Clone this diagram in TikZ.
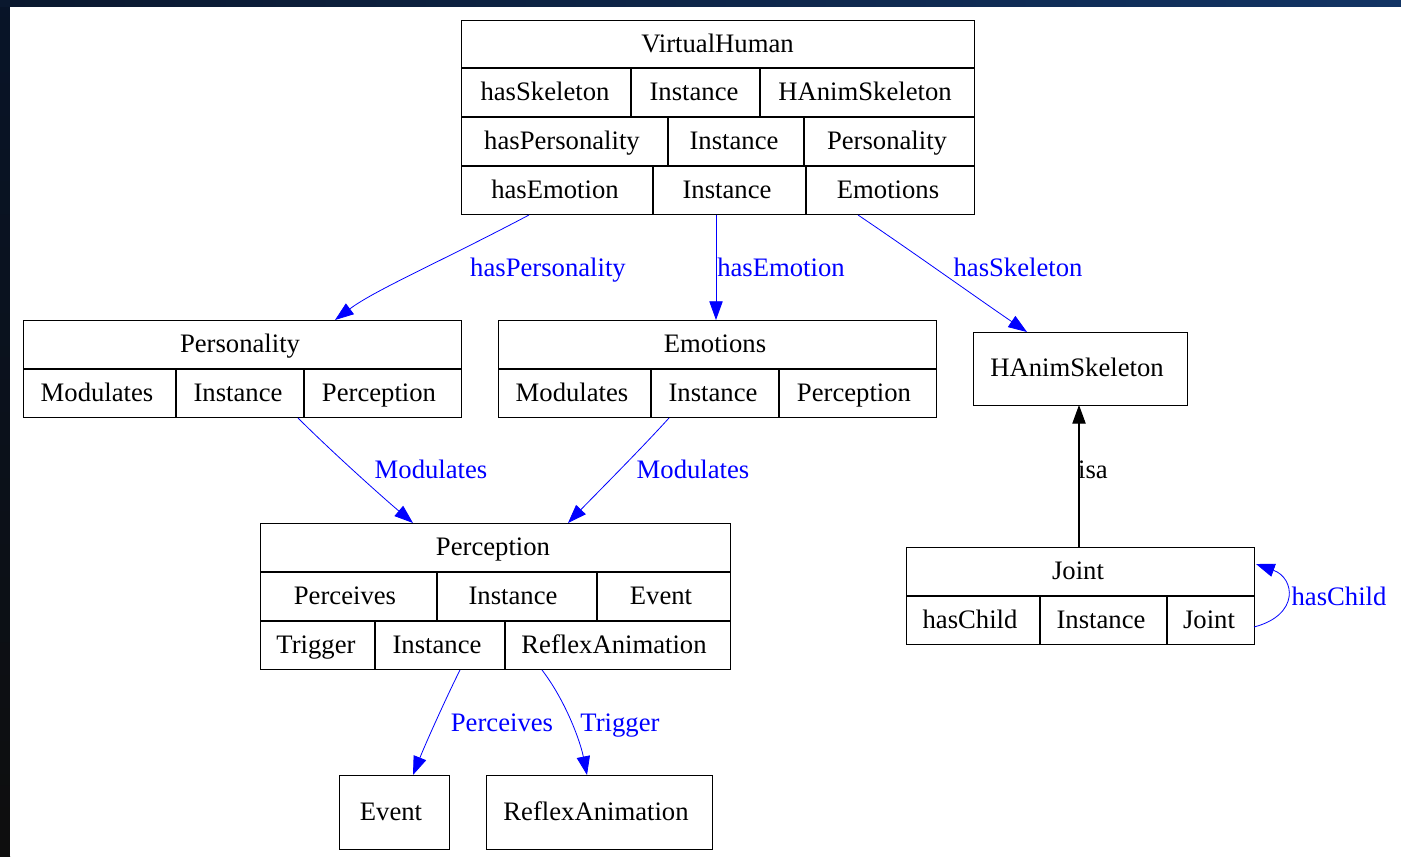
\documentclass[tikz,border=0pt]{standalone}
\usepackage{fontspec}
\setmainfont{Liberation Serif}
\usetikzlibrary{arrows.meta}
\definecolor{edgeblue}{RGB}{0,0,255}
\definecolor{bandA}{RGB}{10,24,46}
\definecolor{bandB}{RGB}{18,52,100}
\definecolor{bandC}{RGB}{8,20,40}
\definecolor{bandD}{RGB}{14,14,14}
\begin{document}
\begin{tikzpicture}[x=0.75pt,y=-0.75pt,
  rec/.style={draw=black, line width=0.9pt, inner sep=0pt, anchor=north west},
  cell/.style={inner sep=0pt, font=\fontsize{20}{24}\selectfont, text height=1.45ex, text depth=0.3ex, yshift=-3.5pt},
  elbl/.style={cell, text=edgeblue},
  klbl/.style={cell, text=black},
  sep/.style={draw=black, line width=0.9pt},
  bedge/.style={draw=edgeblue, line width=0.6pt, -{Triangle[length=14pt,width=10pt]}},
  kedge/.style={draw=black, line width=0.8pt, -{Triangle[length=14pt,width=10pt]}}]
\useasboundingbox (0,0) rectangle (1401,856);
% background frame
\shade[top color=bandC, bottom color=bandD] (0,0) rectangle (10,856);
\shade[left color=bandA, right color=bandB] (0,0) rectangle (1401,7);
\fill[white] (10,7) rectangle (1401,856);

% ---------- VirtualHuman ----------
\node[rec, minimum width=384.75pt, minimum height=145.5pt] (vh) at (461,20) {};
\draw[sep] (461,68) -- (974,68) (461,117) -- (974,117) (461,166) -- (974,166);
\draw[sep] (631,68) -- (631,117) (760,68) -- (760,117);
\draw[sep] (668,117) -- (668,166) (804,117) -- (804,166);
\draw[sep] (653,166) -- (653,214) (806,166) -- (806,214);
\node[cell] (vh-h) at (717.5,44) {VirtualHuman};
\node[cell] (vh-a1) at (545,92.5) {hasSkeleton};
\node[cell] (vh-a2) at (694,92.5) {Instance};
\node[cell] (vh-a3) at (865,92.5) {HAnimSkeleton};
\node[cell] (vh-b1) at (562,141.5) {hasPersonality};
\node[cell] (vh-b2) at (734,141.5) {Instance};
\node[cell] (vh-b3) at (887,141.5) {Personality};
\node[cell] (vh-c1) at (555,190) {hasEmotion};
\node[cell] (vh-c2) at (727,190) {Instance};
\node[cell] (vh-c3) at (888,190) {Emotions};

% ---------- Personality ----------
\node[rec, minimum width=328.5pt, minimum height=72.75pt] (pe) at (23,320) {};
\draw[sep] (23,369) -- (461,369) (176,369) -- (176,417) (304,369) -- (304,417);
\node[cell] (pe-h) at (240,344.5) {Personality};
\node[cell] (pe-1) at (97,393) {Modulates};
\node[cell] (pe-2) at (238,393) {Instance};
\node[cell] (pe-3) at (379,393) {Perception};

% ---------- Emotions ----------
\node[rec, minimum width=328.5pt, minimum height=72.75pt] (em) at (498,320) {};
\draw[sep] (498,369) -- (936,369) (651,369) -- (651,417) (779,369) -- (779,417);
\node[cell] (em-h) at (715,344.5) {Emotions};
\node[cell] (em-1) at (572,393) {Modulates};
\node[cell] (em-2) at (713,393) {Instance};
\node[cell] (em-3) at (854,393) {Perception};

% ---------- HAnimSkeleton ----------
\node[rec, minimum width=160.5pt, minimum height=54.75pt] (hs) at (973,332) {};
\node[cell] (hs-h) at (1077,368.5) {HAnimSkeleton};

% ---------- Perception ----------
\node[rec, minimum width=352.5pt, minimum height=109.5pt] (pc) at (260,523) {};
\draw[sep] (260,572) -- (730,572) (260,621) -- (730,621);
\draw[sep] (437,572) -- (437,621) (597,572) -- (597,621);
\draw[sep] (375,621) -- (375,669) (505,621) -- (505,669);
\node[cell] (pc-h) at (493,547.5) {Perception};
\node[cell] (pc-a1) at (345,596.5) {Perceives};
\node[cell] (pc-a2) at (513,596.5) {Instance};
\node[cell] (pc-a3) at (661,596.5) {Event};
\node[cell] (pc-b1) at (316,645) {Trigger};
\node[cell] (pc-b2) at (437,645) {Instance};
\node[cell] (pc-b3) at (614,645) {ReflexAnimation};

% ---------- Joint ----------
\node[rec, minimum width=261pt, minimum height=72.75pt] (jt) at (906,547) {};
\draw[sep] (906,596) -- (1254,596) (1040,596) -- (1040,644) (1167,596) -- (1167,644);
\node[cell] (jt-h) at (1078,571.5) {Joint};
\node[cell] (jt-1) at (970,620) {hasChild};
\node[cell] (jt-2) at (1101,620) {Instance};
\node[cell] (jt-3) at (1209,620) {Joint};

% ---------- Event / ReflexAnimation ----------
\node[rec, minimum width=82.5pt, minimum height=55.5pt] (ev) at (339,775) {};
\node[cell] (ev-h) at (391,812) {Event};
\node[rec, minimum width=169.5pt, minimum height=55.5pt] (ra) at (486,775) {};
\node[cell] (ra-h) at (596,812) {ReflexAnimation};

% ---------- connector end points on the boxes ----------
\coordinate (vh-o1) at (529,215);
\coordinate (vh-o2) at (716,215);
\coordinate (vh-o3) at (858,215);
\coordinate (pe-in) at (335,320);
\coordinate (em-in) at (716,320);
\coordinate (hs-in) at (1027,332);
\coordinate (hs-bot) at (1079,405);
\coordinate (jt-top) at (1079,547);
\coordinate (pe-out) at (298,418);
\coordinate (em-out) at (669,418);
\coordinate (pc-in1) at (413,523);
\coordinate (pc-in2) at (568,523);
\coordinate (pc-o1) at (460,670);
\coordinate (pc-o2) at (542,670);
\coordinate (ev-in) at (413,775);
\coordinate (ra-in) at (587,775);
\coordinate (jt-o) at (1254,627);
\coordinate (jt-i) at (1256,564);

% ---------- connectors ----------
\draw[bedge] (vh-o1) .. controls (440,262) and (375,290) .. (pe-in);
\draw[bedge] (vh-o2) -- (em-in);
\draw[bedge] (vh-o3) .. controls (910,250) and (980,300) .. (hs-in);
\draw[bedge] (pe-out) .. controls (330,450) and (380,495) .. (pc-in1);
\draw[bedge] (em-out) .. controls (640,450) and (595,495) .. (pc-in2);
\draw[bedge] (pc-o1) .. controls (445,700) and (425,745) .. (ev-in);
\draw[bedge] (pc-o2) .. controls (565,700) and (580,740) .. (ra-in);
\draw[bedge] (jt-o) .. controls (1300,615) and (1295,578) .. (jt-i);
\draw[kedge] (jt-top) -- (hs-bot);

% ---------- connector labels ----------
\node[elbl] (l-hp) at (548,268) {hasPersonality};
\node[elbl] (l-he) at (781,268) {hasEmotion};
\node[elbl] (l-hs) at (1018,268) {hasSkeleton};
\node[elbl] (l-m1) at (431,470) {Modulates};
\node[elbl] (l-m2) at (693,470) {Modulates};
\node[klbl] (l-isa) at (1093,470) {isa};
\node[elbl] (l-pv) at (502,723) {Perceives};
\node[elbl] (l-tr) at (620,723) {Trigger};
\node[elbl] (l-hc) at (1339,597) {hasChild};
\end{tikzpicture}
\end{document}
